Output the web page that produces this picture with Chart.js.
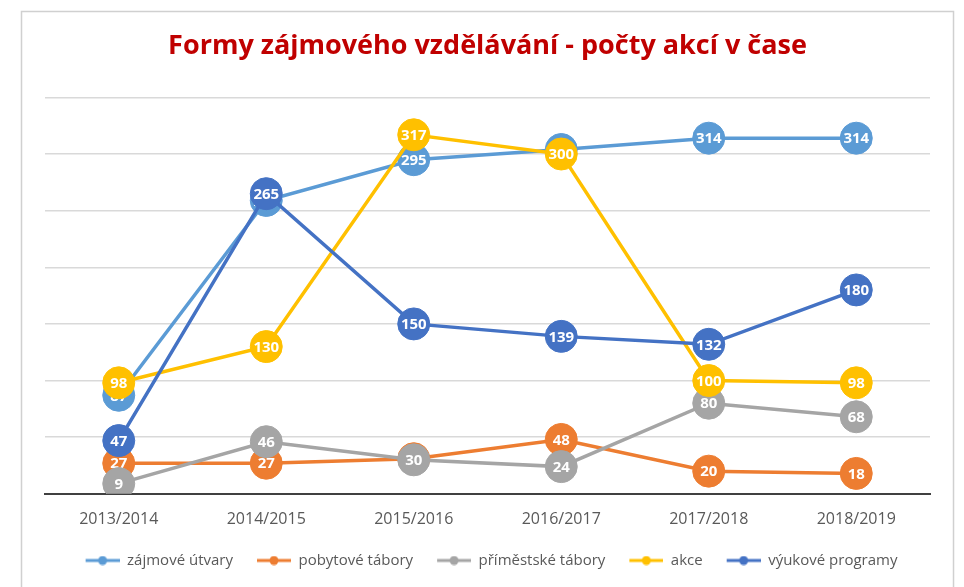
<!DOCTYPE html>
<html>
<head>
<meta charset="utf-8">
<script src="https://cdn.jsdelivr.net/npm/chart.js"></script>
<style>
  body { margin: 0; background: #fff; }
  #wrap { position: relative; width: 964px; height: 587px; }
</style>
</head>
<body>
<div id="wrap"><canvas id="formy" width="964" height="587"></canvas></div>
<script>
const years = ['2013/2014', '2014/2015', '2015/2016', '2016/2017', '2017/2018', '2018/2019'];
const zajmoveUtvary = [87, 259, 295, 304, 314, 314];
const pobytoveTabory = [27, 27, 31, 48, 20, 18];
const primestskeTabory = [9, 46, 30, 24, 80, 68];
const akce = [98, 130, 317, 300, 100, 98];
const vyukoveProgramy = [47, 265, 150, 139, 132, 180];

const font = "'Open Sans', 'Noto Sans', sans-serif";

// little line + dot marker for legend (left part left blank as spacing)
function legendMark(color) {
  const c = document.createElement('canvas');
  c.width = 42; c.height = 10;
  const x = c.getContext('2d');
  x.strokeStyle = color; x.lineWidth = 3;
  x.beginPath(); x.moveTo(8, 5); x.lineTo(42, 5); x.stroke();
  x.fillStyle = color;
  x.beginPath(); x.arc(25, 5, 4.5, 0, Math.PI * 2); x.fill();
  return c;
}

function serie(label, data, color, order) {
  return {
    label: label,
    data: data,
    borderColor: color,
    backgroundColor: color,
    pointBackgroundColor: color,
    pointBorderColor: color,
    borderWidth: 3.5,
    pointRadius: 16,
    pointBorderWidth: 1,
    tension: 0,
    order: order
  };
}

const frame = {
  id: 'frame',
  beforeDraw(chart) {
    const ctx = chart.ctx;
    ctx.save();
    ctx.strokeStyle = '#d0d0d0';
    ctx.lineWidth = 1.5;
    ctx.strokeRect(21.5, 11.5, 932, 590);
    ctx.restore();
  }
};

const labels = {
  id: 'labels',
  afterDatasetDraw(chart, args) {
    const ctx = chart.ctx;
    const meta = args.meta;
    ctx.save();
    ctx.fillStyle = '#fff';
    ctx.font = 'bold 15px ' + font;
    ctx.textAlign = 'center';
    ctx.textBaseline = 'middle';
    meta.data.forEach((pt, i) => {
      ctx.fillText(chart.data.datasets[args.index].data[i], pt.x, pt.y + 1);
    });
    ctx.restore();
  }
};

new Chart(document.getElementById('formy'), {
  type: 'line',
  data: {
    labels: years,
    datasets: [
      serie('zájmové útvary', zajmoveUtvary, '#5B9BD5', 5),
      serie('pobytové tábory', pobytoveTabory, '#ED7D31', 4),
      serie('příměstské tábory', primestskeTabory, '#A5A5A5', 3),
      serie('akce', akce, '#FFC000', 2),
      serie('výukové programy', vyukoveProgramy, '#4472C4', 1)
    ]
  },
  options: {
    responsive: false,
    animation: false,
    layout: { padding: { left: 45, right: 34, top: 12, bottom: 9 } },
    scales: {
      x: {
        offset: true,
        grid: { display: false },
        border: { display: true, color: '#404040', width: 2 },
        ticks: { color: '#595959', font: { family: font, size: 16 }, padding: 8 }
      },
      y: {
        min: 0,
        max: 350,
        ticks: { stepSize: 50, display: false },
        border: { display: false },
        grid: { color: '#d9d9d9', lineWidth: 1.5, drawTicks: false }
      }
    },
    plugins: {
      title: {
        display: true,
        text: 'Formy zájmového vzdělávání - počty akcí v čase',
        color: '#C00000',
        font: { family: font, size: 27, weight: 'bold' },
        padding: { top: 18, bottom: 35 }
      },
      legend: {
        position: 'bottom',
        sort: (a, b) => a.datasetIndex - b.datasetIndex,
        labels: {
          usePointStyle: true,
          pointStyleWidth: 42,
          color: '#595959',
          font: { family: font, size: 15 },
          padding: 16,
          generateLabels(chart) {
            return chart.data.datasets.map((ds, i) => ({
              text: ds.label,
              pointStyle: legendMark(ds.borderColor),
              fillStyle: ds.borderColor,
              strokeStyle: ds.borderColor,
              lineWidth: 0,
              fontColor: '#595959',
              hidden: !chart.isDatasetVisible(i),
              datasetIndex: i
            }));
          }
        }
      },
      tooltip: { enabled: false }
    }
  },
  plugins: [frame, labels]
});
</script>
</body>
</html>
